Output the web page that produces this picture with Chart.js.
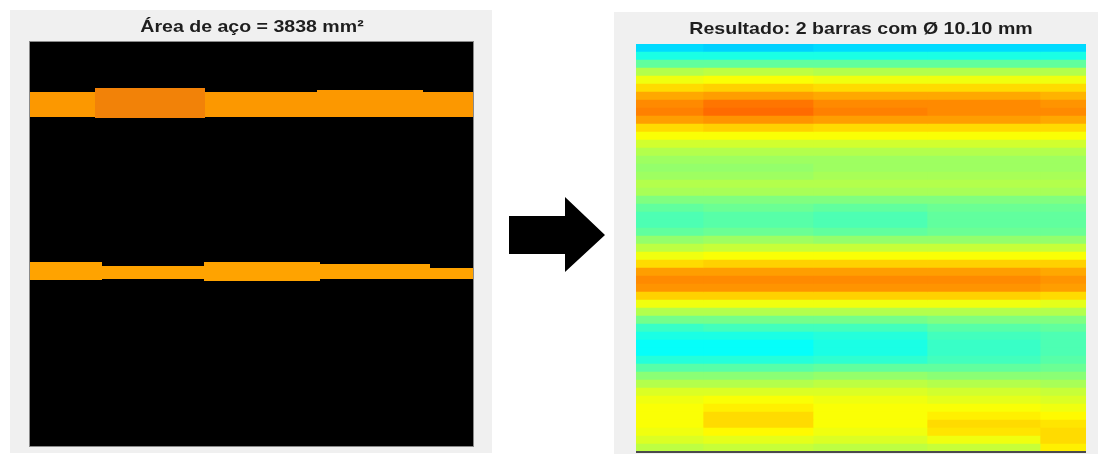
<!DOCTYPE html>
<html>
<head>
<meta charset="utf-8">
<script src="https://cdn.jsdelivr.net/npm/chart.js@4.4.1/dist/chart.umd.min.js"></script>
<style>
  html, body { margin: 0; padding: 0; background: #fff; }
  body { width: 1098px; height: 454px; position: relative; overflow: hidden; }
  .panel { position: absolute; background: #f0f0f0; }
  #secaoBox { left: 10px; top: 10px; width: 482px; height: 443px; }
  #resultadoBox { left: 614px; top: 12px; width: 484px; height: 442px; }
  #seta { position: absolute; left: 500px; top: 190px; }
  .titulo {
    position: absolute; white-space: nowrap; color: #1e1e1e;
    font: bold 17px "Liberation Sans", Arial, sans-serif; line-height: 17px;
    transform: translateX(-50%) scaleX(1.15); transform-origin: center;
  }
  #tituloSecao { left: 252px; top: 18px; }
  #tituloResultado { left: 861px; top: 20px; }
</style>
</head>
<body>
<div class="panel" id="secaoBox"><canvas id="secaoChart" width="482" height="443"></canvas></div>
<div class="titulo" id="tituloSecao">Área de aço = 3838 mm²</div>
<svg id="seta" width="115" height="90" viewBox="500 190 115 90">
  <polygon points="509,216 565,216 565,197 605,235 565,272 565,254 509,254" fill="#000"/>
</svg>
<div class="panel" id="resultadoBox"><canvas id="resultadoChart" width="484" height="442"></canvas></div>
<div class="titulo" id="tituloResultado">Resultado: 2 barras com Ø 10.10 mm</div>

<script>
'use strict';

// Secao binaria: faixas de aco (coordenadas em pixels da imagem, y de cima para baixo)
const secaoLargura = 443;
const secaoAltura = 404;

const faixaSupX = [0, 65, 175, 287, 393, 443];
const faixaSupTopo = [50, 46, 50, 48, 50, 50];
const faixaSupBase = [75, 76, 75, 75, 75, 75];

const realceSupX = [65, 175];
const realceSupTopo = [46, 46];
const realceSupBase = [76, 76];

const faixaInfX = [0, 72, 174, 290, 400, 443];
const faixaInfTopo = [220, 224, 220, 222, 226, 226];
const faixaInfBase = [238, 237, 239, 237, 237, 237];

// Mapa de resultado: 51 linhas x 5 trechos, valores normalizados (colormap jet)
const trechosX = [0, 67, 177, 291, 404, 450];
const linhas = Array.from({ length: 51 }, (_, i) => 'L' + (i + 1));

const trecho1 = [0.34, 0.40, 0.47, 0.55, 0.61, 0.66, 0.71, 0.74, 0.75, 0.72,
                 0.66, 0.62, 0.58, 0.55, 0.53, 0.52, 0.53, 0.55, 0.54, 0.50,
                 0.47, 0.45, 0.45, 0.47, 0.52, 0.56, 0.61, 0.66, 0.72, 0.74,
                 0.73, 0.67, 0.61, 0.55, 0.49, 0.43, 0.40, 0.38, 0.38, 0.41,
                 0.46, 0.51, 0.55, 0.59, 0.61, 0.62, 0.62, 0.62, 0.61, 0.59, 0.56];
const trecho2 = [0.33, 0.40, 0.47, 0.56, 0.62, 0.67, 0.72, 0.76, 0.77, 0.73,
                 0.67, 0.62, 0.58, 0.55, 0.53, 0.52, 0.53, 0.55, 0.54, 0.50,
                 0.48, 0.46, 0.46, 0.48, 0.53, 0.57, 0.62, 0.67, 0.72, 0.74,
                 0.73, 0.67, 0.61, 0.55, 0.49, 0.44, 0.40, 0.38, 0.38, 0.41,
                 0.46, 0.51, 0.55, 0.59, 0.62, 0.64, 0.66, 0.66, 0.63, 0.60, 0.57];
const trecho3 = [0.34, 0.40, 0.47, 0.55, 0.61, 0.66, 0.71, 0.74, 0.75, 0.72,
                 0.66, 0.62, 0.58, 0.55, 0.53, 0.53, 0.54, 0.55, 0.54, 0.50,
                 0.47, 0.45, 0.45, 0.47, 0.52, 0.57, 0.62, 0.67, 0.72, 0.74,
                 0.73, 0.67, 0.61, 0.55, 0.49, 0.44, 0.41, 0.40, 0.40, 0.42,
                 0.47, 0.52, 0.56, 0.59, 0.61, 0.62, 0.62, 0.62, 0.61, 0.59, 0.56];
const trecho4 = [0.34, 0.40, 0.47, 0.55, 0.61, 0.66, 0.71, 0.74, 0.74, 0.72,
                 0.66, 0.62, 0.58, 0.55, 0.53, 0.53, 0.54, 0.55, 0.54, 0.50,
                 0.48, 0.47, 0.47, 0.48, 0.52, 0.57, 0.62, 0.67, 0.72, 0.74,
                 0.73, 0.67, 0.61, 0.55, 0.50, 0.46, 0.44, 0.43, 0.43, 0.44,
                 0.47, 0.51, 0.55, 0.58, 0.60, 0.62, 0.64, 0.66, 0.65, 0.61, 0.57];
const trecho5 = [0.34, 0.40, 0.47, 0.55, 0.61, 0.66, 0.70, 0.73, 0.74, 0.71,
                 0.66, 0.62, 0.58, 0.55, 0.53, 0.53, 0.54, 0.55, 0.54, 0.50,
                 0.48, 0.47, 0.47, 0.48, 0.52, 0.57, 0.62, 0.67, 0.71, 0.73,
                 0.72, 0.66, 0.60, 0.55, 0.50, 0.47, 0.45, 0.45, 0.45, 0.46,
                 0.48, 0.51, 0.54, 0.57, 0.59, 0.61, 0.63, 0.65, 0.66, 0.66, 0.64];
const trechos = [trecho1, trecho2, trecho3, trecho4, trecho5];

Chart.defaults.animation = false;
Chart.defaults.plugins.legend.display = false;
Chart.defaults.plugins.tooltip.enabled = false;

// MATLAB jet
function _jet(v) {
    function c(x) { return Math.round(255 * Math.max(0, Math.min(1, x))); }
    return 'rgb(' + c(1.5 - Math.abs(4 * v - 3)) + ',' + c(1.5 - Math.abs(4 * v - 2)) + ',' + c(1.5 - Math.abs(4 * v - 1)) + ')';
}

function _pontos(xs, ys) {
    return xs.map((x, i) => ({ x: x, y: ys[i] }));
}

// par de datasets: borda de cima e borda de baixo preenchida ate a anterior
function _faixa(xs, topo, base, cor, ordem) {
    var estilo = { stepped: 'before', pointRadius: 0, borderColor: 'rgba(0,0,0,0)', borderWidth: 0, order: ordem };
    return [
        Object.assign({ data: _pontos(xs, topo), fill: false }, estilo),
        Object.assign({ data: _pontos(xs, base), fill: '-1', backgroundColor: cor }, estilo)
    ];
}

const fundoEixos = {
    id: 'fundoEixos',
    beforeDatasetsDraw(chart, args, opts) {
        if (!opts.cor) return;
        var a = chart.chartArea, ctx = chart.ctx;
        ctx.save();
        ctx.fillStyle = opts.cor;
        ctx.fillRect(a.left, a.top, a.right - a.left, a.bottom - a.top);
        ctx.restore();
    },
    afterDraw(chart, args, opts) {
        var a = chart.chartArea, ctx = chart.ctx;
        ctx.save();
        if (opts.contorno) {
            ctx.strokeStyle = opts.contorno;
            ctx.lineWidth = 1;
            ctx.strokeRect(a.left - 0.5, a.top - 0.5, a.right - a.left + 1, a.bottom - a.top + 1);
        }
        if (opts.base) {
            ctx.strokeStyle = opts.base;
            ctx.lineWidth = 2;
            ctx.beginPath();
            ctx.moveTo(a.left, a.bottom);
            ctx.lineTo(a.right, a.bottom);
            ctx.stroke();
        }
        ctx.restore();
    }
};

new Chart(document.getElementById('secaoChart'), {
    type: 'line',
    plugins: [fundoEixos],
    data: {
        datasets: []
            .concat(_faixa(realceSupX, realceSupTopo, realceSupBase, 'rgb(242,130,8)', 0))
            .concat(_faixa(faixaSupX, faixaSupTopo, faixaSupBase, 'rgb(252,152,0)', 1))
            .concat(_faixa(faixaInfX, faixaInfTopo, faixaInfBase, 'rgb(255,163,0)', 1))
    },
    options: {
        responsive: false,
        devicePixelRatio: 1,
        layout: { padding: { left: 20, right: 19, top: 32, bottom: 7 } },
        scales: {
            x: { type: 'linear', min: 0, max: secaoLargura, display: false },
            y: { type: 'linear', min: 0, max: secaoAltura, reverse: true, display: false }
        },
        plugins: {
            fundoEixos: { cor: '#000', contorno: '#8a8a8a' }
        }
    }
});

new Chart(document.getElementById('resultadoChart'), {
    type: 'bar',
    plugins: [fundoEixos],
    data: {
        labels: linhas,
        datasets: trechos.map((valores, k) => ({
            data: linhas.map(() => [trechosX[k], trechosX[k + 1]]),
            backgroundColor: valores.map(_jet),
            borderWidth: 0,
            categoryPercentage: 1,
            barPercentage: 1,
            grouped: false
        }))
    },
    options: {
        indexAxis: 'y',
        responsive: false,
        devicePixelRatio: 1,
        layout: { padding: { left: 22, right: 12, top: 32, bottom: 2 } },
        scales: {
            x: { type: 'linear', min: 0, max: trechosX[trechosX.length - 1], display: false },
            y: { type: 'category', display: false }
        },
        plugins: {
            fundoEixos: { base: '#4a4a4a' }
        }
    }
});
</script>
</body>
</html>
